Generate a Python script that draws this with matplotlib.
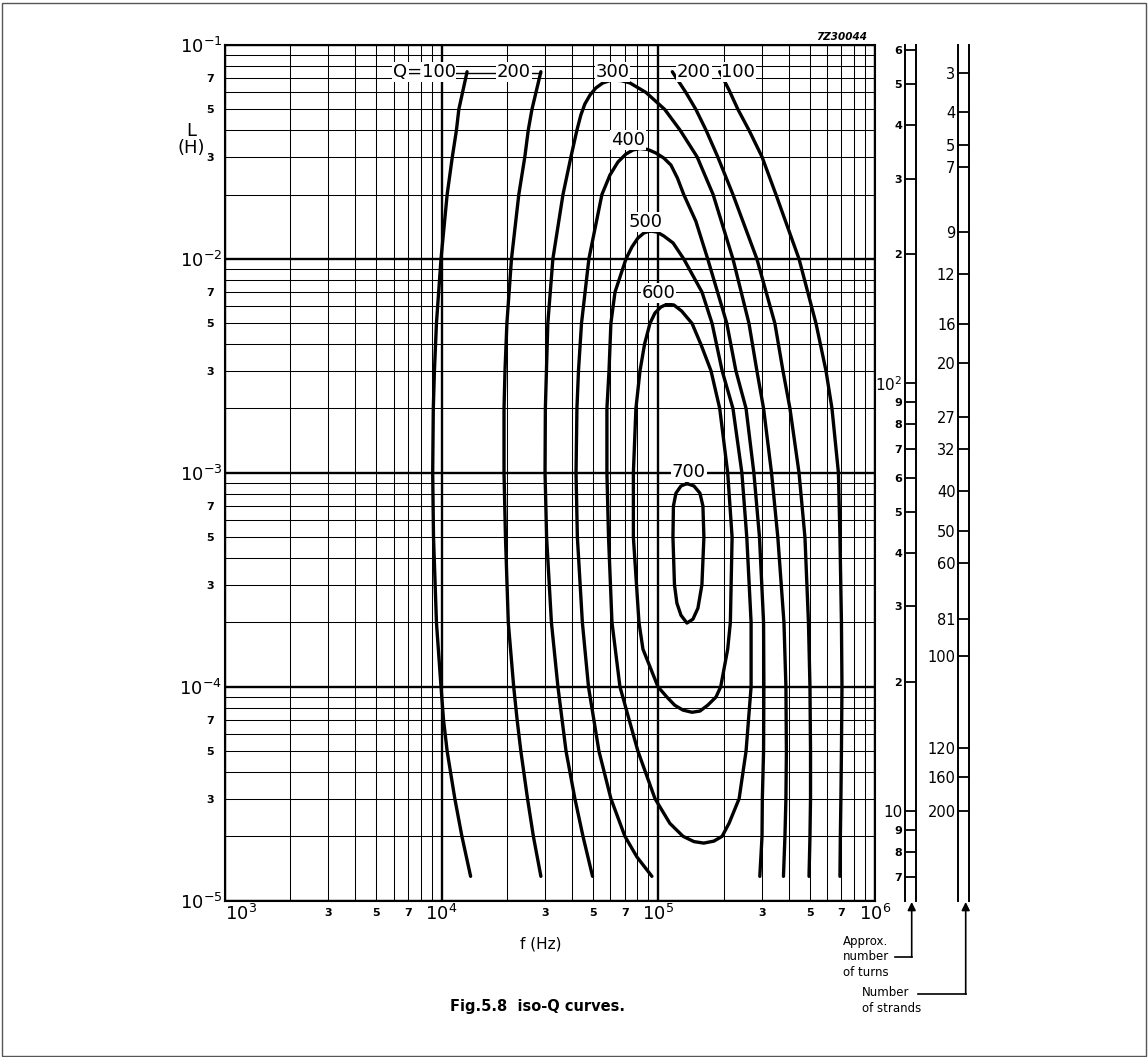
import numpy as np
import matplotlib.pyplot as plt
from matplotlib.ticker import FixedLocator, NullLocator, FuncFormatter
from matplotlib.patches import Rectangle

plt.rcParams['font.family'] = ['DejaVu Sans']
plt.rcParams['mathtext.fontset'] = 'dejavusans'

W, H = 1148, 1057

# iso-Q curves, frequency f (Hz) against inductance L (H)
q100_left_f = [13100, 12000, 11700, 11200, 10600, 9930, 9460, 9260, 9150, 9090, 9170, 9460, 9930,
               10200, 10600, 11500, 12400, 13600]
q100_left_L = [7.5e-2, 5e-2, 4e-2, 3e-2, 2e-2, 1e-2, 5e-3, 3e-3, 2e-3, 1e-3, 5e-4, 2e-4, 1e-4,
               7e-5, 5e-5, 3e-5, 2e-5, 1.3e-5]

q200_left_f = [28700, 26100, 25100, 24200, 22700, 21000, 20000, 19600, 19400, 19400, 19700, 20300, 21500,
               22300, 23200, 24900, 26500, 28700]
q200_left_L = [7.5e-2, 5e-2, 4e-2, 3e-2, 2e-2, 1e-2, 5e-3, 3e-3, 2e-3, 1e-3, 5e-4, 2e-4, 1e-4,
               7e-5, 5e-5, 3e-5, 2e-5, 1.3e-5]

q300_f = [49700, 44900, 41200, 37500, 34400, 32100, 30500, 30000, 30100, 30450, 30900,
          32600, 36300, 39500, 42100, 43900, 45800, 48400, 51500, 55500,
          61100, 67200, 73900,
          87700, 107000, 126000, 151000, 179000, 221000, 262000, 285000, 306000, 333000, 356000,
          380000, 388000, 390000, 388000, 384000, 378000]
q300_L = [1.3e-5, 2e-5, 3e-5, 5e-5, 1e-4, 2e-4, 5e-4, 1e-3, 2e-3, 3e-3, 5e-3,
          1e-2, 2e-2, 3e-2, 4e-2, 4.71e-2, 5.30e-2, 5.84e-2, 6.30e-2, 6.65e-2,
          6.86e-2, 6.82e-2, 6.65e-2,
          6e-2, 5e-2, 4e-2, 3e-2, 2e-2, 1e-2, 5e-3, 3e-3, 2e-3, 1e-3, 5e-4,
          2e-4, 1e-4, 5e-5, 3e-5, 2e-5, 1.3e-5]

q400_f = [93400, 79700, 70100, 60400, 53200, 47600, 44600, 42300, 41700, 42100, 42800,
          44200, 47800, 54900,
          59800, 65100, 70900, 76400, 82300, 89500, 97500, 106000, 114300, 122500,
          131000, 149000, 169000, 207000, 228000, 254000, 276000, 293000, 306000, 307000, 306000,
          302000, 301000, 294000]
q400_L = [1.3e-5, 1.6e-5, 2e-5, 3e-5, 5e-5, 1e-4, 2e-4, 5e-4, 1e-3, 2e-3, 3e-3,
          5e-3, 1e-2, 2e-2,
          2.467e-2, 2.838e-2, 3.093e-2, 3.229e-2, 3.282e-2, 3.247e-2, 3.126e-2, 2.962e-2, 2.748e-2, 2.388e-2,
          2e-2, 1.5e-2, 1e-2, 5e-3, 3e-3, 2e-3, 1e-3, 5e-4, 2e-4, 1e-4, 5e-5,
          3e-5, 2e-5, 1.3e-5]

q500_f = [91500, 85800, 80500, 75500, 70900, 63100, 60400, 59200, 57900, 57900, 58900, 61100, 66500,
          80500, 96500, 113000, 130000, 146000, 162000, 180500, 197000, 212000, 236000, 254000,
          268000, 268000, 256000, 243000, 221000, 197000, 177000, 159000, 131000, 117000, 106000,
          98500, 91500]
q500_L = [1.351e-2, 1.322e-2, 1.252e-2, 1.137e-2, 1e-2, 7e-3, 5e-3, 3e-3, 2e-3, 1e-3, 5e-4, 2e-4, 1e-4,
          5e-5, 3e-5, 2.3e-5, 2e-5, 1.889e-5, 1.859e-5, 1.899e-5, 2e-5, 2.3e-5, 3e-5, 5e-5,
          1e-4, 2e-4, 5e-4, 1e-3, 2e-3, 3e-3, 5e-3, 7e-3, 1e-2, 1.187e-2, 1.28e-2,
          1.336e-2, 1.351e-2]

q600_f = [110000, 102800, 96500, 91500, 86400, 82300, 78800, 76700, 76700, 81400, 84900, 99600, 109600,
          119000, 129900, 143000, 155600, 169000, 184500, 194000, 209000, 215000, 219000, 209000,
          192000, 175000, 157000, 143000, 128000, 118000, 110000]
q600_L = [6.15e-3, 5.96e-3, 5.59e-3, 5e-3, 4e-3, 3e-3, 2e-3, 1e-3, 5e-4, 2e-4, 1.5e-4, 1e-4, 8.95e-5,
          8.2e-5, 7.78e-5, 7.6e-5, 7.7e-5, 8.2e-5, 8.95e-5, 1e-4, 1.5e-4, 2e-4, 5e-4, 1e-3,
          2e-3, 3e-3, 4e-3, 5e-3, 5.71e-3, 6.09e-3, 6.15e-3]

q700_f = [135500, 127200, 120600, 117400, 116800, 118700, 121800, 127200, 135500, 144400, 152300,
          158900, 162300, 160600, 155600, 146000, 135500]
q700_L = [8.91e-4, 8.68e-4, 8.04e-4, 7e-4, 5e-4, 3e-4, 2.46e-4, 2.16e-4, 1.985e-4, 2.07e-4, 2.33e-4,
          3e-4, 5e-4, 7e-4, 8.04e-4, 8.68e-4, 8.91e-4]

q200_right_f = [116000, 134000, 149000, 166000, 188000, 221000, 285000, 345000, 376000, 405000, 446000,
                475000, 493000, 501000, 504000, 504000, 501000, 496000]
q200_right_L = [7.5e-2, 6e-2, 5e-2, 4e-2, 3e-2, 2e-2, 1e-2, 5e-3, 3e-3, 2e-3, 1e-3,
                5e-4, 2e-4, 1e-4, 5e-5, 3e-5, 2e-5, 1.3e-5]

q100_right_f = [192000, 212000, 233000, 262000, 301000, 349000, 446000, 534000, 594000, 633000, 678000,
                689000, 700000, 704000, 700000, 696000, 692000, 689000]
q100_right_L = [7.5e-2, 6.16e-2, 5e-2, 4e-2, 3e-2, 2e-2, 1e-2, 5e-3, 3e-3, 2e-3, 1e-3,
                5e-4, 2e-4, 1e-4, 5e-5, 3e-5, 2e-5, 1.3e-5]

curves = [(q100_left_f, q100_left_L), (q200_left_f, q200_left_L), (q300_f, q300_L),
          (q400_f, q400_L), (q500_f, q500_L), (q600_f, q600_L), (q700_f, q700_L),
          (q200_right_f, q200_right_L), (q100_right_f, q100_right_L)]

q_labels = ['Q=100', '200', '300', '400', '500', '600', '700', '200', '100']
q_label_f = [8290, 21560, 61400, 72400, 87700, 100100, 138400, 146000, 234200]
q_label_L = [7.5e-2, 7.5e-2, 7.5e-2, 3.6e-2, 1.49e-2, 6.9e-3, 1.01e-3, 7.5e-2, 7.5e-2]

# side scales: turns N with L = AL * N^2, and strand counts placed at their turns
AL = 2.637e-7
turn_ticks = [600, 500, 400, 300, 200, 100, 90, 80, 70, 60, 50, 40, 30, 20, 10, 9, 8, 7]
turn_labels = ['6', '5', '4', '3', '2', '$10^{2}$', '9', '8', '7', '6', '5', '4', '3', '2',
               '10', '9', '8', '7']
strands = ['3', '4', '5', '7', '9', '12', '16', '20', '27', '32', '40', '50', '60', '81',
           '100', '120', '160', '200']
strand_turns = [530, 430, 360, 320, 225, 180, 137, 111, 83, 70, 56, 45, 38, 28, 23, 14, 12, 10]


def px(x0, y0, x1, y1):
    return [x0 / W, 1 - y1 / H, (x1 - x0) / W, (y1 - y0) / H]


def decade_digit(v, keep):
    m = int(round(v / 10 ** np.floor(np.log10(v) + 1e-9)))
    return str(m) if m in keep else ''


fig = plt.figure(figsize=(W / 100, H / 100), dpi=100)
ax = fig.add_axes(px(225, 45, 875, 900.7))
ax.set_xscale('log')
ax.set_yscale('log')
ax.set_xlim(1e3, 1e6)
ax.set_ylim(1e-5, 1e-1)

minor_x = [m * 10 ** e for e in range(3, 6) for m in range(2, 10)]
minor_y = [m * 10.0 ** e for e in range(-5, -1) for m in range(2, 10)]
ax.xaxis.set_major_locator(FixedLocator([1e3, 1e4, 1e5, 1e6]))
ax.xaxis.set_minor_locator(FixedLocator(minor_x))
ax.yaxis.set_major_locator(FixedLocator([1e-5, 1e-4, 1e-3, 1e-2, 1e-1]))
ax.yaxis.set_minor_locator(FixedLocator(minor_y))
ax.xaxis.set_major_formatter(FuncFormatter(lambda v, p: '$10^{%d}$' % round(np.log10(v))))
ax.yaxis.set_major_formatter(FuncFormatter(lambda v, p: '$10^{%d}$' % round(np.log10(v))))
ax.xaxis.set_minor_formatter(FuncFormatter(lambda v, p: decade_digit(v, (3, 5, 7))))
ax.yaxis.set_minor_formatter(FuncFormatter(lambda v, p: decade_digit(v, (3, 5, 7))))
ax.tick_params(which='both', length=0)
ax.tick_params(which='major', labelsize=13)
ax.tick_params(axis='x', which='major', pad=2)
ax.tick_params(axis='y', which='major', pad=2)
ax.tick_params(axis='x', which='minor', labelsize=8, pad=5)
ax.tick_params(axis='y', which='minor', labelsize=8, pad=8)
for t in ax.xaxis.get_minorticklabels() + ax.yaxis.get_minorticklabels():
    t.set_fontweight('bold')
ax.get_xticklabels()[0].set_horizontalalignment('left')
ax.grid(which='minor', color='black', lw=0.75)
ax.grid(which='major', color='black', lw=1.7)
for s in ax.spines.values():
    s.set_linewidth(1.5)

for f, L in curves:
    ax.plot(f, L, color='black', lw=2.4, solid_joinstyle='round', solid_capstyle='round', zorder=3)

# leader from the Q=100 label across to the Q=200 curve top
ax.plot([q_label_f[0], q200_left_f[0]], [q_label_L[0] * 0.99] * 2, color='black', lw=1.0, zorder=2.6)
for s, f, L in zip(q_labels, q_label_f, q_label_L):
    ax.text(f, L, s, ha='center', va='center', fontsize=13, zorder=4,
            bbox=dict(facecolor='white', edgecolor='none', pad=0.6))

ylo, yhi = ax.get_ylim()


def side_scale(x0, x1, ticks, labels, size, bold_small):
    a = fig.add_axes(px(x0, 45, x1, 900.7))
    a.set_yscale('log')
    a.set_ylim(np.sqrt(ylo / AL), np.sqrt(yhi / AL))
    a.set_xticks([])
    a.yaxis.set_minor_locator(NullLocator())
    a.set_yticks(ticks, labels=labels)
    a.tick_params(axis='y', direction='in', length=(x1 - x0) * 0.72, width=1.3, pad=2, labelsize=size)
    for t in a.get_yticklabels():
        if bold_small and not (t.get_text().startswith('$') or t.get_text() == '10'):
            t.set_fontweight('bold')
            t.set_fontsize(8)
    a.spines['top'].set_visible(False)
    a.spines['bottom'].set_visible(False)
    a.spines['left'].set_linewidth(1.4)
    a.spines['right'].set_linewidth(1.4)
    a.patch.set_alpha(0)
    return a


ax_t = side_scale(905, 915.7, turn_ticks, turn_labels, 11, True)
ax_s = side_scale(958.3, 969.3, strand_turns, strands, 10.5, False)

# labels and notes
fig.text(191 / W, 1 - 131 / H, 'L', ha='center', va='center', fontsize=13)
fig.text(191 / W, 1 - 148 / H, '(H)', ha='center', va='center', fontsize=13)
fig.text(541 / W, 1 - 944 / H, 'f (Hz)', ha='center', va='center', fontsize=11)
fig.text(867 / W, 1 - 37 / H, '7Z30044', ha='right', va='center', fontsize=7.5,
         fontweight='bold', fontstyle='italic')
fig.text(537 / W, 1 - 1007 / H, 'Fig.5.8  iso-Q curves.', ha='center', va='center',
         fontsize=10.5, fontweight='semibold')
for s, xs, ys in [('Approx.', 843, 941), ('number', 843, 957), ('of turns', 843, 973),
                  ('Number', 862, 993), ('of strands', 862, 1009)]:
    fig.text(xs / W, 1 - ys / H, s, ha='left', va='center', fontsize=8.5)

arrow = dict(arrowstyle='-|>', color='black', lw=1.2, mutation_scale=12, shrinkA=0, shrinkB=0)
for xa, xl, ya in [(911.7, 895, 957), (965.7, 918, 994)]:
    fig.add_artist(plt.Line2D([xl / W, xa / W], [1 - ya / H] * 2, color='black', lw=1.2))
    ax.annotate('', xy=(xa / W, 1 - 902 / H), xytext=(xa / W, 1 - ya / H),
                xycoords='figure fraction', textcoords='figure fraction',
                arrowprops=arrow, annotation_clip=False)

fig.patches.append(Rectangle((1.5 / W, 1.5 / H), 1 - 4 / W, 1 - 4 / H, transform=fig.transFigure,
                             fill=False, edgecolor='#555555', lw=1))

fig.savefig('out.png', dpi=100)
